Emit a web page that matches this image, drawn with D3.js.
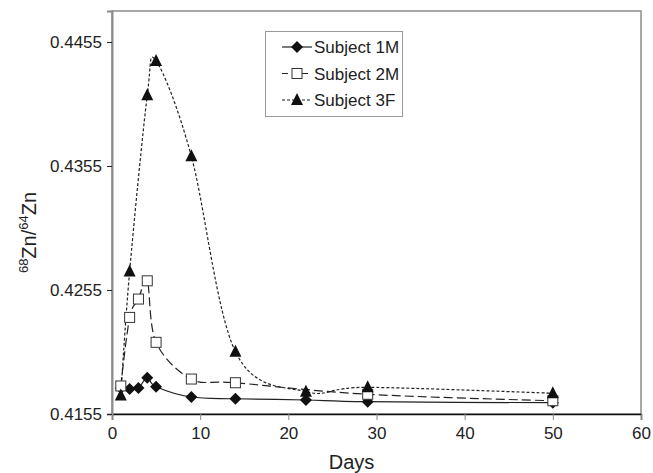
<!DOCTYPE html>
<html lang="en">
<head>
    <meta charset="UTF-8">
    <title>68Zn/64Zn by day</title>
    <script src="https://cdnjs.cloudflare.com/ajax/libs/d3/7.8.5/d3.min.js"></script>
    <style>
        body { margin: 0; background: #fff; }
        svg text { font-family: "Liberation Sans", Arial, sans-serif; fill: #222; }
    </style>
</head>
<body>
    <div id="chart"></div>

    <script>
        // Values
        const days1 = [1, 2, 3, 4, 5, 9, 14, 22, 29, 50];
        const subject1M = [0.4176, 0.41751, 0.4176, 0.41843, 0.4177, 0.41687, 0.41673, 0.41663, 0.41649, 0.41641];
        const days2 = [1, 2, 3, 4, 5, 9, 14, 29, 50];
        const subject2M = [0.41776, 0.42329, 0.42477, 0.42624, 0.42128, 0.41832, 0.41802, 0.41709, 0.41657];
        const days3 = [1, 2, 4, 5, 9, 14, 22, 29, 50];
        const subject3F = [0.4170, 0.4270, 0.4412, 0.44397, 0.43629, 0.42052, 0.4173, 0.41765, 0.41717];

        const seriesNames = ["Subject 1M", "Subject 2M", "Subject 3F"];
        const xTicks = [0, 10, 20, 30, 40, 50, 60];
        const yTicks = [0.4155, 0.4255, 0.4355, 0.4455];

        const width = 653, height = 473;
        const margin = { left: 112, right: 12, top: 11, bottom: 59 };

        const svg = d3.select("#chart").append("svg")
            .attr("width", width)
            .attr("height", height);

        const x = d3.scaleLinear().domain([0, 60]).range([margin.left, width - margin.right]);
        const y = d3.scaleLinear().domain([0.4155, 0.448]).range([height - margin.bottom, margin.top]);

        // plot frame (gray top/right)
        svg.append("rect")
            .attr("x", x(0)).attr("y", y(0.448))
            .attr("width", x(60) - x(0)).attr("height", y(0.4155) - y(0.448))
            .attr("fill", "none").attr("stroke", "#8c8c8c").attr("stroke-width", 1.5);

        // axes
        const xAxis = svg.append("g")
            .attr("transform", `translate(0,${y(0.4155)})`)
            .call(d3.axisBottom(x).tickValues(xTicks).tickSize(6).tickPadding(5).tickFormat(d3.format("d")));
        const yAxis = svg.append("g")
            .attr("transform", `translate(${x(0)},0)`)
            .call(d3.axisLeft(y).tickValues(yTicks).tickSize(5).tickPadding(5).tickFormat(d3.format(".4f")));

        xAxis.select(".domain").attr("stroke", "#111").attr("stroke-width", 1.5);
        yAxis.select(".domain").attr("stroke", "#8c8c8c").attr("stroke-width", 2);
        xAxis.selectAll(".tick line").attr("stroke", "#888");
        yAxis.selectAll(".tick line").attr("stroke", "#222");
        svg.selectAll(".tick text").attr("font-size", 17).attr("fill", "#222")
            .style("font-family", "'Liberation Sans', Arial, sans-serif");
        xAxis.selectAll(".tick text").attr("dy", "0.85em");

        // axis titles
        svg.append("text")
            .attr("x", (x(0) + x(60)) / 2 - 25).attr("y", 469)
            .attr("text-anchor", "middle").attr("font-size", 20)
            .text("Days");

        const yt = svg.append("text")
            .attr("transform", `translate(36,${(y(0.4155) + y(0.448)) / 2 + 20}) rotate(-90)`)
            .attr("text-anchor", "middle").attr("font-size", 20);
        yt.append("tspan").attr("font-size", 13).attr("dy", -8).text("68");
        yt.append("tspan").attr("dy", 8).text("Zn/");
        yt.append("tspan").attr("font-size", 13).attr("dy", -8).text("64");
        yt.append("tspan").attr("dy", 8).text("Zn");

        const series = [
            { name: seriesNames[0], days: days1, vals: subject1M, dash: null, marker: "diamond" },
            { name: seriesNames[1], days: days2, vals: subject2M, dash: "9,4", marker: "square" },
            { name: seriesNames[2], days: days3, vals: subject3F, dash: "3,2", marker: "triangle" }
        ];

        const line = d3.line()
            .x(d => x(d[0]))
            .y(d => y(d[1]))
            .curve(d3.curveCardinal.tension(0));

        function drawMarker(g, type, cx, cy) {
            if (type === "diamond") {
                g.append("path")
                    .attr("d", `M${cx},${cy - 6}L${cx + 6},${cy}L${cx},${cy + 6}L${cx - 6},${cy}Z`)
                    .attr("fill", "#111");
            } else if (type === "square") {
                g.append("rect")
                    .attr("x", cx - 5).attr("y", cy - 5).attr("width", 10).attr("height", 10)
                    .attr("fill", "#fff").attr("stroke", "#333").attr("stroke-width", 1);
            } else {
                g.append("path")
                    .attr("d", `M${cx},${cy - 7}L${cx + 6},${cy + 5}L${cx - 6},${cy + 5}Z`)
                    .attr("fill", "#111");
            }
        }

        series.forEach(s => {
            const pts = s.days.map((d, i) => [d, s.vals[i]]);
            svg.append("path")
                .datum(pts)
                .attr("d", line)
                .attr("fill", "none")
                .attr("stroke", "#222")
                .attr("stroke-width", 1.2)
                .attr("stroke-dasharray", s.dash);
        });
        series.forEach(s => {
            const g = svg.append("g");
            s.days.forEach((d, i) => drawMarker(g, s.marker, x(d), y(s.vals[i])));
        });

        // legend
        const legend = svg.append("g");
        legend.append("rect")
            .attr("x", 265.5).attr("y", 31.5).attr("width", 137).attr("height", 85)
            .attr("fill", "#fff").attr("stroke", "#999");
        series.forEach((s, i) => {
            const ly = 47 + i * 26.5;
            legend.append("line")
                .attr("x1", 282).attr("x2", 312).attr("y1", ly).attr("y2", ly)
                .attr("stroke", "#222").attr("stroke-width", 1.2)
                .attr("stroke-dasharray", s.dash === "9,4" ? "6,4" : s.dash);
            drawMarker(legend, s.marker, 297, ly);
            legend.append("text")
                .attr("x", 314).attr("y", ly + 6)
                .attr("font-size", 17)
                .text(s.name);
        });
    </script>
</body>
</html>
